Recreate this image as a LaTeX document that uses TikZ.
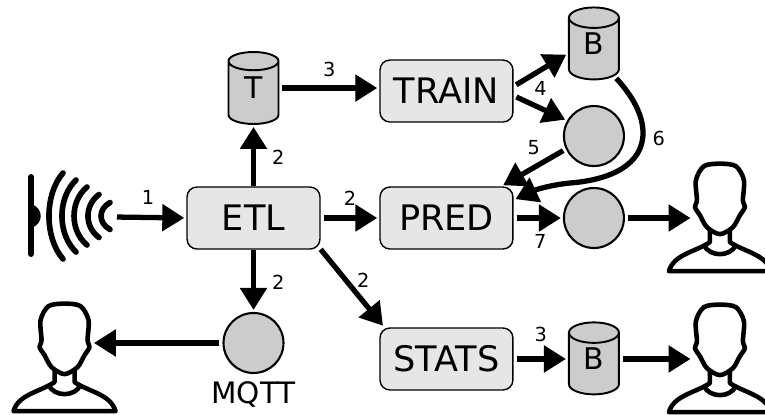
\documentclass[tikz,border=0pt]{standalone}
\usepackage{fontspec}
\setmainfont{DejaVu Sans}
\usetikzlibrary{arrows.meta,shapes.geometric}
\definecolor{boxgray}{HTML}{E6E6E6}
\definecolor{storegray}{HTML}{CCCCCC}
\tikzstyle{brick} = [rectangle, rounded corners=0.2cm, minimum width=2.66cm, minimum height=1.24cm, inner sep=0pt, text centered, draw=black, line width=0.8pt, fill=boxgray, font=\fontsize{20}{20}\selectfont]
\tikzstyle{store} = [cylinder, shape border rotate=90, aspect=1, minimum width=1cm, minimum height=1.44cm, inner sep=0pt, yshift=-0.1cm, text depth=0.2cm, draw=black, line width=1.1pt, fill=storegray, font=\fontsize{17}{17}\selectfont]
\tikzstyle{topic} = [circle, minimum size=1.2cm, inner sep=0pt, draw=black, line width=1.2pt, fill=storegray]
\tikzstyle{man} = [minimum width=1.08cm, minimum height=2.22cm, inner sep=0pt]
\tikzstyle{flow} = [line width=3pt, -{Triangle[length=0.44cm,width=0.52cm]}, shorten <=0.06cm, shorten >=0.04cm]
\tikzstyle{num} = [font=\fontsize{11}{11}\selectfont, inner sep=0pt]
\tikzset{
  person/.pic={
    \draw[line width=2.6pt, line join=round, fill=white] plot[smooth cycle] coordinates {(0,1.5) (-16,4) (-24,18) (-23,38) (-25,45) (-20,53) (-13,65) (0,72) (13,65) (20,53) (25,45) (23,38) (24,18) (16,4)};
    \draw[line width=2.6pt, line join=round] (-10,68) -- (-10,80) .. controls (-25,90) and (-46,92) .. (-51,109) -- (51,109) .. controls (46,92) and (25,90) .. (10,80) -- (10,68);
    \draw[line width=2.6pt] (-16,83) .. controls (-10,95) and (10,95) .. (16,83);
  }
}

\begin{document}
\begin{tikzpicture}[x=0.02cm, y=-0.02cm, node distance=2.5cm]
        \useasboundingbox (0,0) rectangle (765,414);
        \node (etl) [brick] at (253.5,218) {ETL};
        \node (pred) [brick,right of=etl,node distance=3.86cm] {PRED};
        \node (train) [brick,above of=pred,node distance=2.54cm] {TRAIN};
        \node (stats) [brick,below of=pred,node distance=2.82cm] {STATS};
        \node (cylT) [store,above of=etl,node distance=2.6cm] {T};
        \node (tpred) [topic,right of=pred,node distance=2.95cm] {};
        \node (tmodel) [topic,above of=tpred,node distance=1.64cm] {};
        \node (cylM) [store,above of=tmodel,node distance=1.84cm] {B};
        \node (cylS) [store,right of=stats,node distance=2.95cm] {B};
        \node (mqtt) [topic,below of=etl] {};
        \node (mqttname) [below of=mqtt,node distance=1.02cm,font=\fontsize{16.8}{16.8}\selectfont] {MQTT};
        \node (userP) [man,right of=tpred,node distance=2.52cm] {};
        \node (userS) [man,right of=cylS,node distance=2.52cm,yshift=0.1cm] {};
        \node (userM) [man,left of=mqtt,node distance=3.78cm,yshift=-0.3cm] {};
        \coordinate (sensor) at (114,217);
        \pic at (userP.north) {person};
        \pic at (userS.north) {person};
        \pic at (userM.north) {person};
        \draw[line width=3.4pt, line cap=round] (31,177) -- (31,254);
        \fill (31,204) .. controls (44,208) and (44,224) .. (31,228) -- cycle;
        \foreach \endx/\ctrl/\half in {63/44.3/43,76/57.3/36,87/69.7/29,99/84.3/21.5,110/98/13.5}
                \draw[line width=3.2pt, line cap=round] (\endx,216-\half) .. controls (\ctrl,216-\half/2) and (\ctrl,216+\half/2) .. (\endx,216+\half);
        \draw [flow] (sensor) -- node[num,pos=.47,above=0.2cm]{1} (etl.west);
        \draw [flow,shorten <=0pt] (etl.north) -- node[num,right=0.32cm,pos=.47]{2} (cylT.south);
        \draw [flow] ([yshift=0.1cm]cylT.east) -- node[num,pos=.5,above=0.18cm]{3} ([yshift=0.1cm]train.west |- cylT.east);
        \draw [flow] (etl.east) -- node[num,pos=.5,above=0.2cm]{2} (pred.west);
        \draw [flow,shorten <=0pt] (etl.-25) -- node[num,pos=.5,right=0.04cm,yshift=0.16cm]{2} (stats.153);
        \draw [flow,shorten <=0pt] (etl.south) -- node[num,right=0.32cm,pos=.52]{2} (mqtt.north);
        \draw [flow] (mqtt.west) -- (mqtt.west -| userM.east);
        \draw [flow] (stats.east) -- node[num,pos=.5,above=0.3cm]{3} (stats.east -| cylS.west);
        \draw [flow] (stats.east -| cylS.east) -- (stats.east -| userS.west);
        \draw [flow] (train.4) -- (cylM.190);
        \draw [flow] (train.-4) -- node[num,pos=.45,above right=0.1cm,xshift=-0.22cm,yshift=0.08cm]{4} (tmodel.150);
        \draw [flow] (tmodel.205) -- node[num,pos=.5,above left=0.1cm,xshift=0.28cm,yshift=0.1cm]{5} (pred.30);
        \draw [flow] (cylM.-53) .. controls (636,100) and (643,118) .. (643,133) node[num,right=0.14cm,yshift=-0.1cm]{6} .. controls (643,165) and (610,180) .. (570,183) .. controls (550,185) and (535,190) .. (pred.15);
        \draw [flow] (pred.east) -- node[num,pos=.5,below=0.28cm,xshift=0.04cm]{7} (tpred.west);
        \draw [flow] (tpred.east) -- (userP.west);
\end{tikzpicture}
\end{document}
